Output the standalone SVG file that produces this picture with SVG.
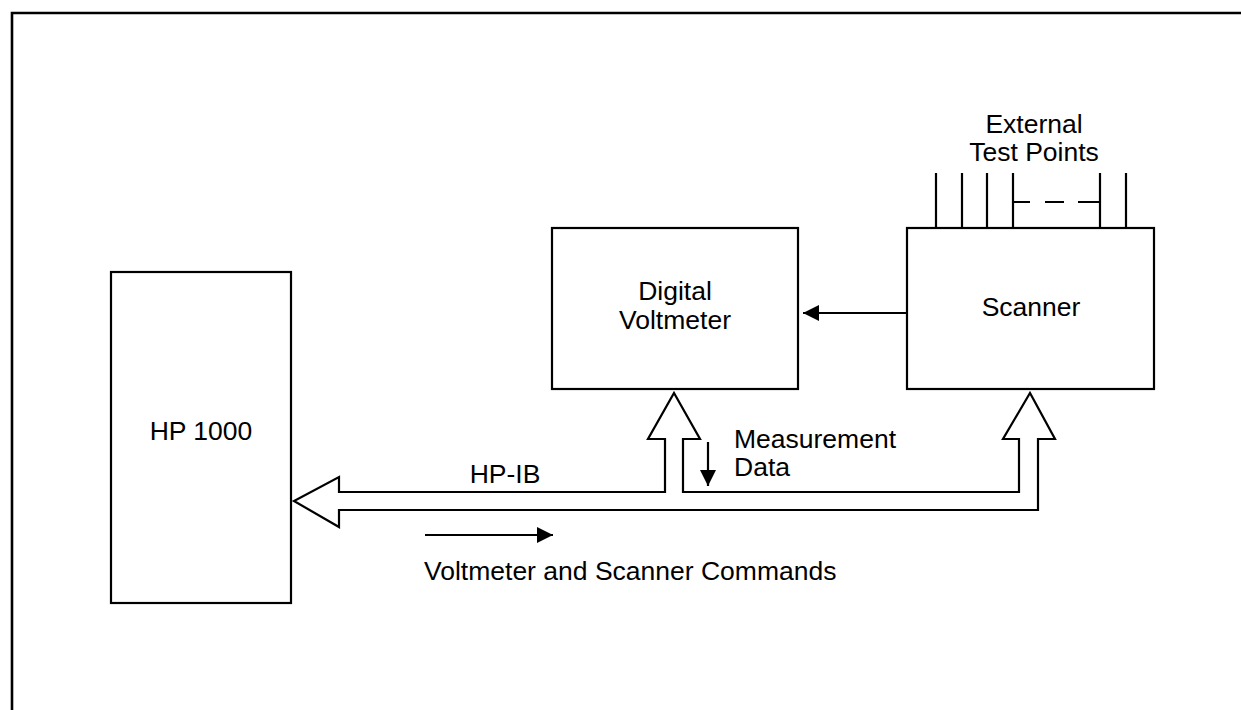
<svg xmlns="http://www.w3.org/2000/svg" width="1241" height="710" viewBox="0 0 1241 710">
<style>
.box{fill:none;stroke:#000;stroke-width:2.2}
.ln{fill:none;stroke:#000;stroke-width:2.2}
.t{font-family:"Liberation Sans",Arial,sans-serif;font-size:26.5px;fill:#000}
.c{text-anchor:middle}
</style>
<defs>
<marker id="ah" viewBox="0 0 16 16" refX="16" refY="8" markerWidth="16" markerHeight="16" markerUnits="userSpaceOnUse" orient="auto">
<path d="M0,0 L16,8 L0,16 Z" fill="#000"/>
</marker>
</defs>
<rect width="1241" height="710" fill="#fff"/>
<path d="M12,710 V13 H1241" fill="none" stroke="#000" stroke-width="2.6"/>

<g id="hp1000">
<rect class="box" x="111" y="272" width="180" height="331"/>
<text class="t c" x="201" y="440">HP 1000</text>
</g>

<g id="dvm">
<rect class="box" x="552" y="228" width="246" height="161"/>
<text class="t c" x="675" y="300">Digital</text>
<text class="t c" x="675" y="329">Voltmeter</text>
</g>

<g id="scanner">
<rect class="box" x="907" y="228" width="247" height="161"/>
<text class="t c" x="1031" y="316">Scanner</text>
</g>

<g id="testpoints">
<text class="t c" x="1034" y="133">External</text>
<text class="t c" x="1034" y="161">Test Points</text>
<path class="ln" d="M936,173 V228 M962,173 V228 M987,173 V228 M1013,173 V228 M1100,173 V228 M1126,173 V228"/>
<path class="ln" d="M1013,202 H1030 M1045,202 H1064 M1078,202 H1100"/>
</g>

<g id="connectors">
<path class="ln" d="M339,492 L665,492 L665,439 L648,439 L674,393 L700,439 L683,439 L683,492 L1019,492 L1019,439 L1003,439 L1030,393 L1055,439 L1038,439 L1038,510 L339,510 L339,527 L294,501 L339,477 Z"/>
<line class="ln" x1="907" y1="313" x2="803" y2="313" marker-end="url(#ah)"/>
<line class="ln" x1="708" y1="442" x2="708" y2="486" marker-end="url(#ah)"/>
<line class="ln" x1="425" y1="535" x2="553" y2="535" marker-end="url(#ah)"/>
</g>

<g id="labels">
<text class="t c" x="505" y="483">HP-IB</text>
<text class="t" x="734" y="448">Measurement</text>
<text class="t" x="734" y="476">Data</text>
<text class="t" x="424" y="580">Voltmeter and Scanner Commands</text>
</g>
</svg>
